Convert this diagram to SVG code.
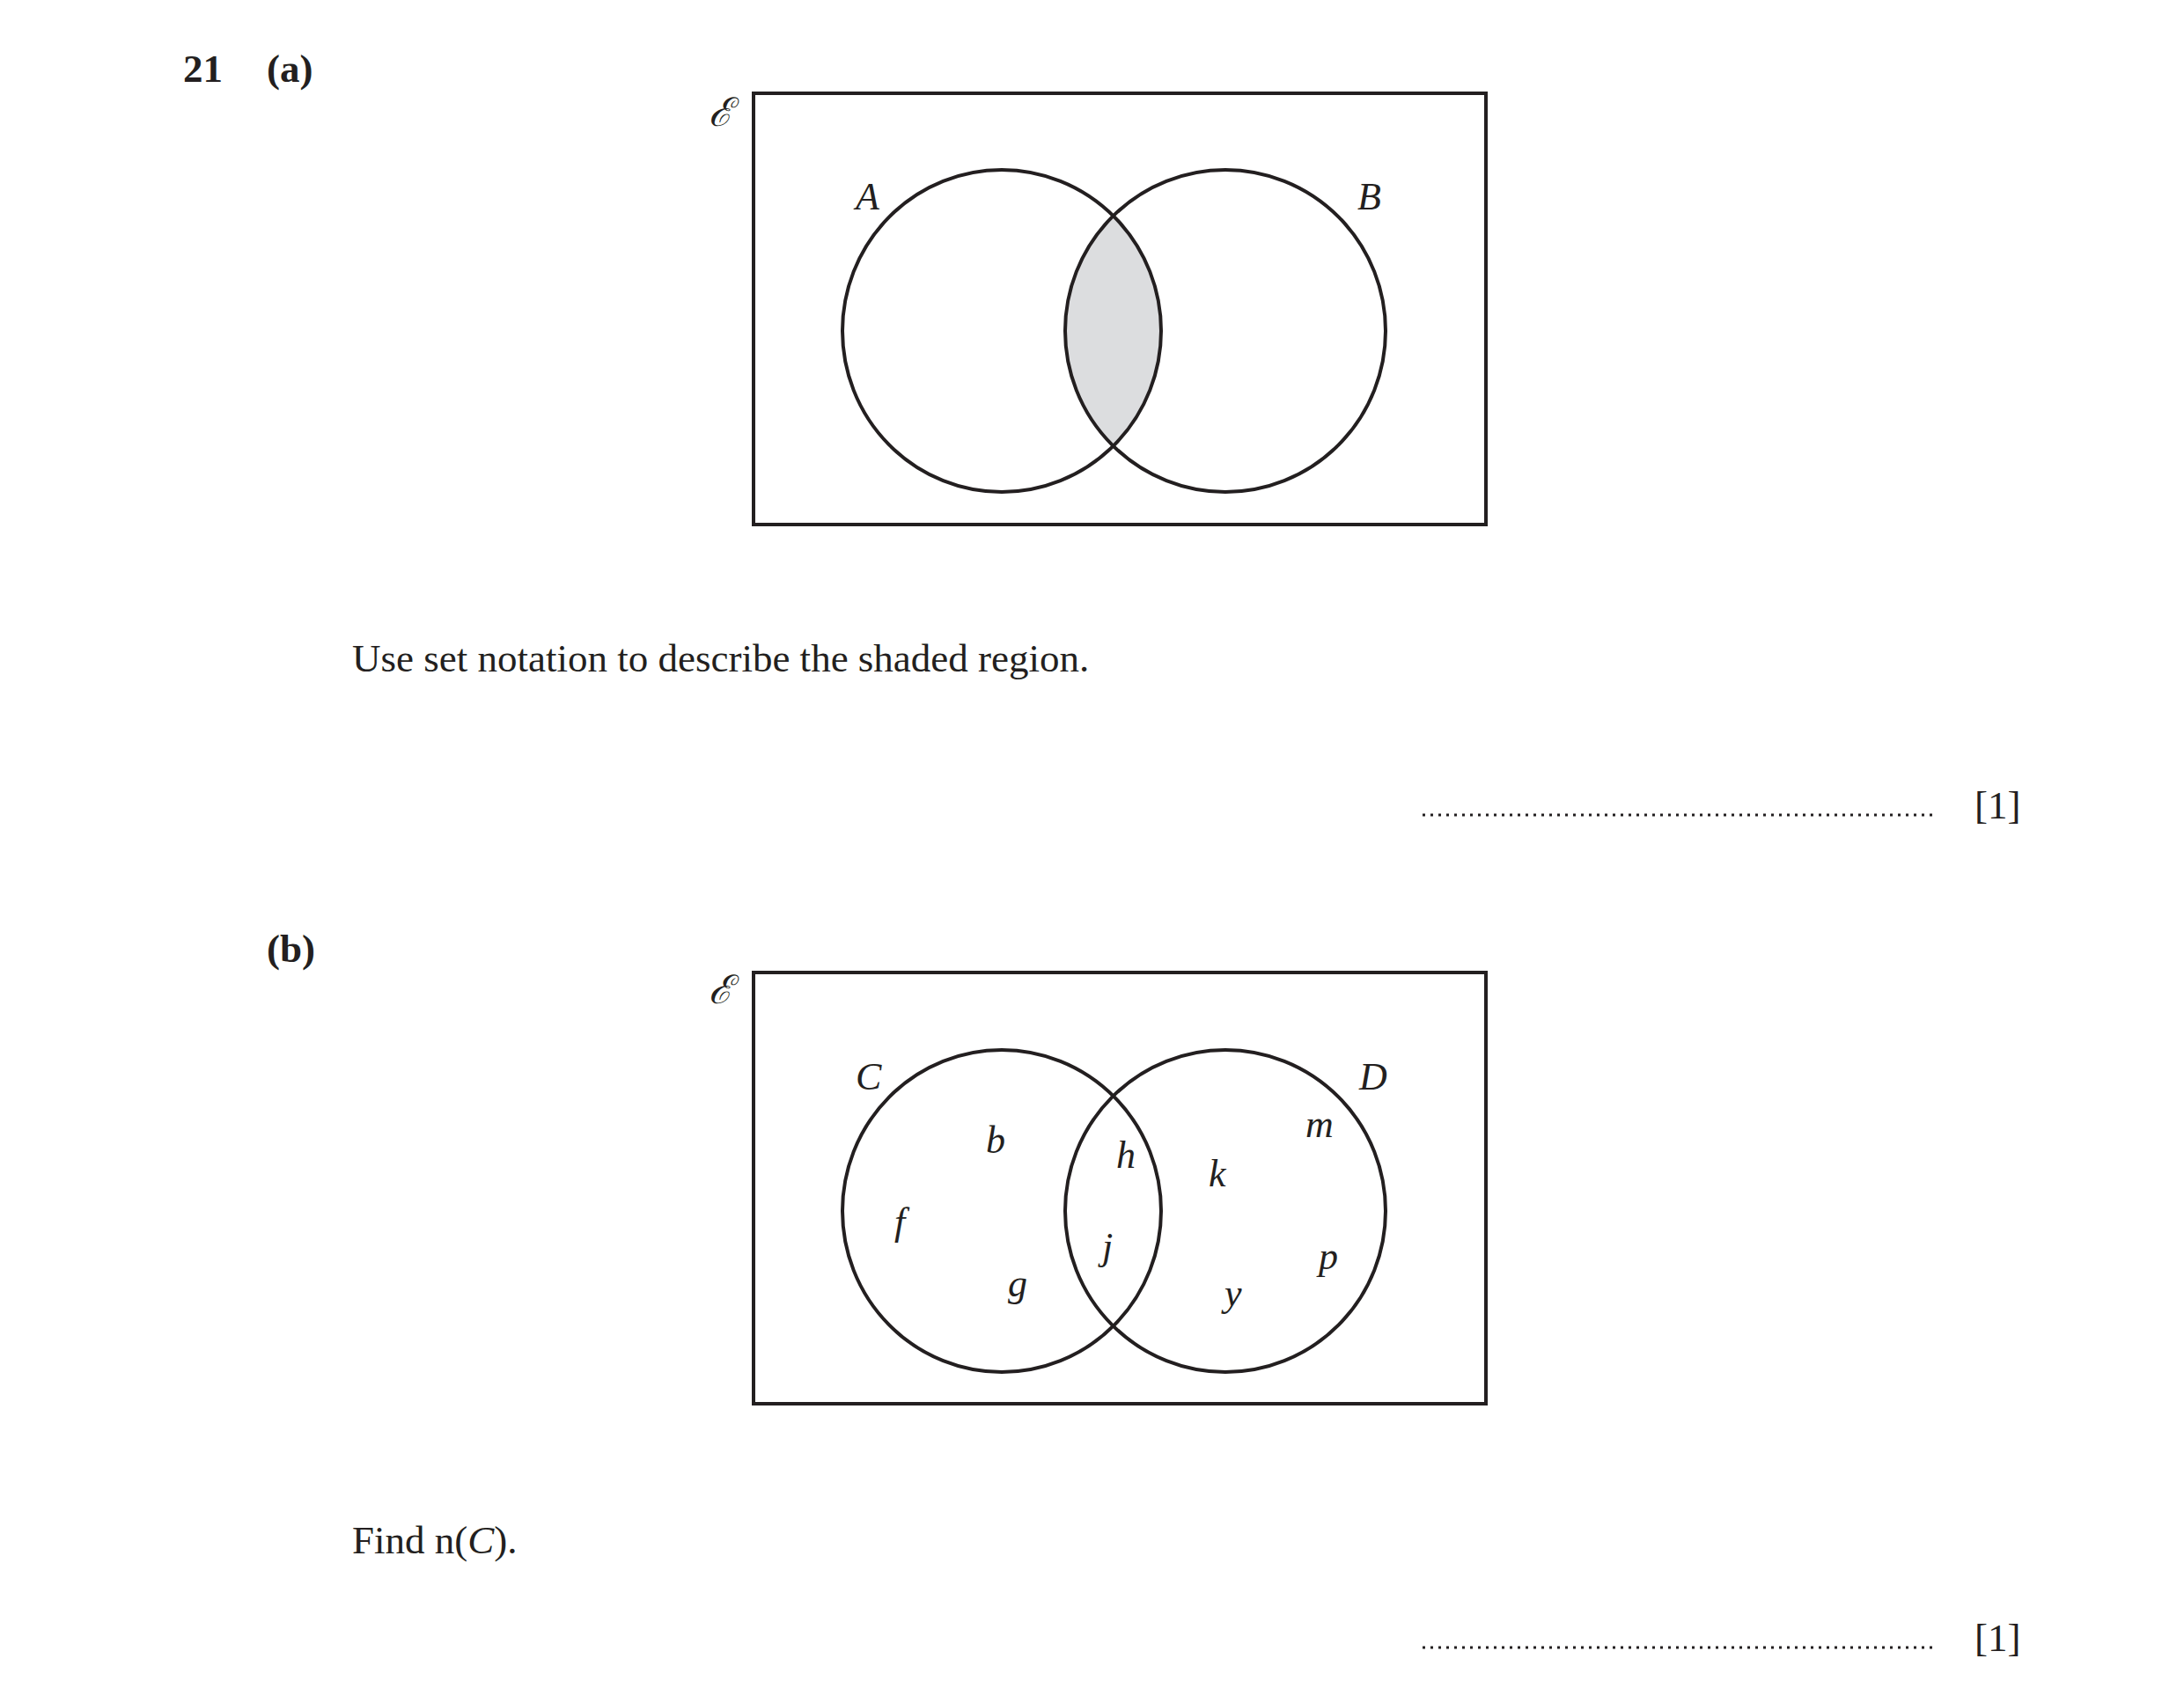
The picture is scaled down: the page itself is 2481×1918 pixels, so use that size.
<svg xmlns="http://www.w3.org/2000/svg" width="2481" height="1918" viewBox="0 0 2481 1918">
<style>
.t{font-family:"Liberation Serif",serif;font-size:45px;fill:#231f20}
.b{font-weight:bold}
.i{font-style:italic;font-size:44px}
.s{fill:none;stroke:#231f20;stroke-width:4}
.d{stroke:#231f20;stroke-width:3;stroke-dasharray:3,6}
</style>
<rect width="2481" height="1918" fill="#fff"/>
<text class="t b" x="208" y="93">21</text>
<text class="t b" x="303" y="93">(a)</text>
<g id="venn-a">
<rect class="s" x="856" y="106" width="832" height="490"/>
<text class="t" x="805" y="143" font-style="italic" font-size="40">ℰ</text>
<path d="M1265,244 A182,183 0 0 0 1265,506 A182,183 0 0 0 1265,244 Z" fill="#dcdddf"/>
<ellipse class="s" cx="1138" cy="376" rx="181" ry="183"/>
<ellipse class="s" cx="1392" cy="376" rx="182" ry="183"/>
<text class="t i" x="972" y="238">A</text>
<text class="t i" x="1542" y="238">B</text>
</g>
<text class="t" x="400" y="763">Use set notation to describe the shaded region.</text>
<line class="d" x1="1616" y1="926" x2="2200" y2="926"/>
<text class="t" x="2243" y="930">[1]</text>
<text class="t b" x="303" y="1093">(b)</text>
<g id="venn-b">
<rect class="s" x="856" y="1105" width="832" height="490"/>
<text class="t" x="805" y="1140" font-style="italic" font-size="40">ℰ</text>
<ellipse class="s" cx="1138" cy="1376" rx="181" ry="183"/>
<ellipse class="s" cx="1392" cy="1376" rx="182" ry="183"/>
<text class="t i" x="972" y="1238">C</text>
<text class="t i" x="1544" y="1238">D</text>
<text class="t i" x="1120" y="1310">b</text>
<text class="t i" x="1268" y="1327">h</text>
<text class="t i" x="1483" y="1292">m</text>
<text class="t i" x="1373" y="1348">k</text>
<text class="t i" x="1016" y="1403">f</text>
<text class="t i" x="1252" y="1431">j</text>
<text class="t i" x="1498" y="1442">p</text>
<text class="t i" x="1145" y="1473">g</text>
<text class="t i" x="1391" y="1484">y</text>
</g>
<text class="t" x="400" y="1765">Find n(<tspan font-style="italic">C</tspan>).</text>
<line class="d" x1="1616" y1="1872" x2="2200" y2="1872"/>
<text class="t" x="2243" y="1876">[1]</text>
</svg>
